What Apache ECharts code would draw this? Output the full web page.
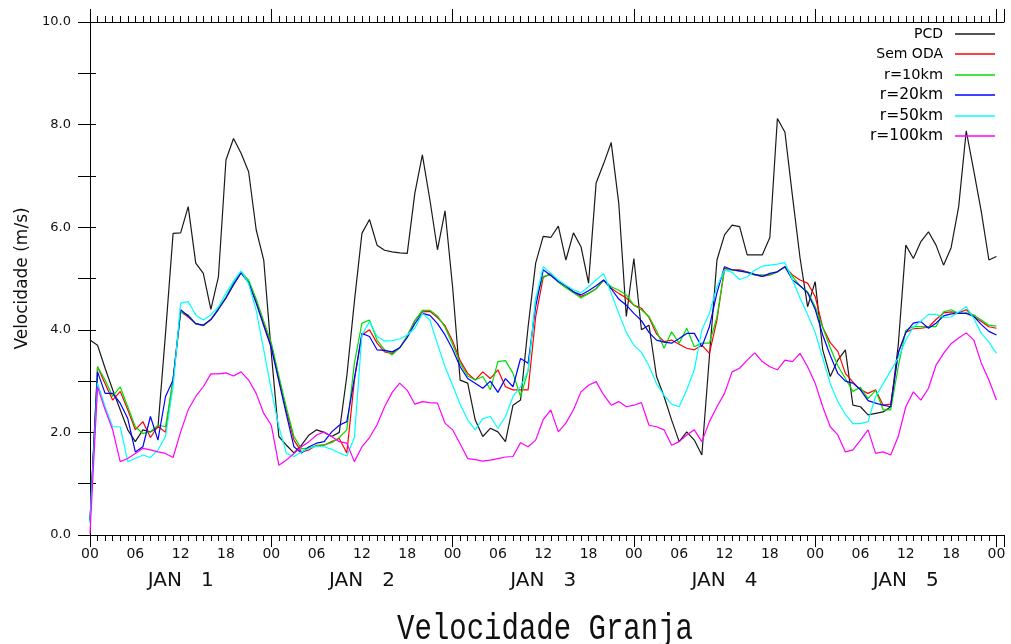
<!DOCTYPE html>
<html><head><meta charset="utf-8">
<script src="https://cdn.jsdelivr.net/npm/echarts@6/dist/echarts.min.js"></script>
<style>html,body{margin:0;padding:0;background:#fff}#c{width:1011px;height:644px}</style>
</head><body><div id="c"></div>
<script>
// hourly values, hour 0 = 00Z JAN 1 ... hour 120 = 00Z JAN 6
const pcd = [
3.80,3.70,3.25,2.83,2.44,2.05,1.82,2.05,2.01,2.10,3.93,5.88,
5.89,6.40,5.30,5.10,4.40,5.03,7.31,7.73,7.44,7.08,5.95,5.36,
3.55,1.92,1.75,1.60,1.75,1.95,2.05,2.00,1.92,2.00,3.10,4.55,
5.88,6.15,5.65,5.55,5.52,5.50,5.49,6.66,7.41,6.53,5.56,6.32,
4.84,3.02,2.96,2.24,1.92,2.08,2.01,1.82,2.53,2.63,4.06,5.30,
5.82,5.80,6.02,5.36,5.89,5.62,4.91,6.86,7.24,7.65,6.47,4.26,
5.39,4.00,4.09,3.09,2.70,2.24,1.82,2.01,1.85,1.56,3.48,5.36,
5.85,6.04,6.01,5.46,5.46,5.46,5.80,8.12,7.85,6.60,5.40,4.45,
4.94,3.61,3.09,3.41,3.61,2.53,2.50,2.34,2.37,2.40,2.50,3.70,
5.65,5.39,5.72,5.91,5.65,5.26,5.60,6.40,7.88,7.10,6.30,5.36,
5.43];
const semOda = [
0.25,3.28,2.95,2.63,2.80,2.44,2.05,2.21,1.90,2.12,2.00,3.05,
4.35,4.25,4.12,4.08,4.20,4.40,4.62,4.88,5.12,4.92,4.55,4.12,
3.70,3.05,2.42,1.85,1.62,1.66,1.75,1.75,1.82,1.88,1.60,3.02,
3.90,4.00,3.74,3.57,3.54,3.65,3.88,4.18,4.35,4.36,4.24,4.08,
3.78,3.40,3.15,3.02,3.18,3.05,3.22,2.89,2.83,2.83,2.83,4.25,
5.02,5.10,4.93,4.83,4.74,4.65,4.71,4.80,4.97,4.81,4.71,4.62,
4.48,4.42,4.24,3.92,3.77,3.80,3.72,3.64,3.61,3.70,3.54,4.19,
5.20,5.17,5.17,5.13,5.07,5.04,5.07,5.13,5.23,5.07,4.97,4.91,
4.65,4.05,3.75,3.58,3.15,2.98,2.83,2.76,2.83,2.53,2.55,3.55,
3.95,4.02,4.03,4.05,4.20,4.33,4.35,4.33,4.39,4.26,4.16,4.06,
4.03];
const r10 = [
0.25,3.28,3.02,2.70,2.89,2.50,2.11,1.98,2.01,2.14,2.11,3.02,
4.35,4.29,4.11,4.09,4.20,4.42,4.64,4.92,5.13,4.97,4.60,4.17,
3.75,3.10,2.48,1.92,1.68,1.70,1.74,1.76,1.80,1.90,2.05,3.35,
4.13,4.19,3.80,3.61,3.51,3.65,3.88,4.18,4.38,4.38,4.27,4.05,
3.72,3.35,3.10,3.02,3.09,2.83,3.38,3.40,3.15,2.70,3.20,4.60,
5.04,5.07,4.93,4.82,4.72,4.62,4.71,4.80,4.97,4.84,4.77,4.68,
4.48,4.39,4.26,3.98,3.64,3.96,3.74,4.03,3.67,3.74,3.74,4.25,
5.17,5.17,5.14,5.13,5.07,5.07,5.07,5.13,5.23,5.04,4.85,4.74,
4.45,4.05,3.65,3.30,3.05,2.80,2.88,2.66,2.82,2.44,2.44,3.28,
3.99,4.06,4.06,4.06,4.06,4.35,4.39,4.32,4.33,4.29,4.19,4.09,
4.07];
const r20 = [
0.30,3.18,2.76,2.76,2.57,2.27,1.62,1.72,2.31,1.85,2.70,3.02,
4.39,4.27,4.12,4.09,4.20,4.40,4.62,4.88,5.11,4.92,4.52,4.08,
3.65,3.00,2.35,1.72,1.60,1.72,1.79,1.82,2.01,2.14,2.21,3.05,
3.93,3.87,3.61,3.60,3.57,3.65,3.85,4.12,4.32,4.28,4.12,3.90,
3.62,3.28,3.05,2.96,2.86,3.00,2.78,3.05,2.89,3.44,3.35,4.45,
5.17,5.06,4.94,4.86,4.74,4.68,4.76,4.86,4.97,4.80,4.60,4.48,
4.32,4.18,3.95,3.80,3.76,3.74,3.83,3.93,3.93,3.67,4.06,4.72,
5.23,5.17,5.15,5.12,5.08,5.04,5.10,5.13,5.23,4.97,4.86,4.72,
4.40,3.90,3.50,3.15,3.00,2.96,2.83,2.62,2.57,2.53,2.50,3.55,
3.95,4.13,4.16,4.03,4.13,4.27,4.31,4.32,4.32,4.26,4.10,3.97,
3.90];
const r50 = [
0.25,2.96,2.50,2.11,2.11,1.43,1.49,1.56,1.51,1.66,1.92,2.89,
4.52,4.55,4.29,4.19,4.29,4.45,4.71,4.95,5.15,4.90,4.38,3.61,
2.83,2.11,1.59,1.53,1.62,1.69,1.73,1.72,1.67,1.60,1.54,1.90,
3.90,4.16,3.87,3.78,3.79,3.82,3.90,4.03,4.32,4.19,3.72,3.28,
2.92,2.55,2.24,2.05,2.27,2.31,2.08,2.31,2.70,2.89,3.20,4.60,
5.23,5.10,4.97,4.87,4.78,4.72,4.84,4.97,5.10,4.71,4.32,3.95,
3.70,3.56,3.30,2.95,2.72,2.55,2.50,2.83,3.22,4.00,4.32,4.84,
5.17,5.12,4.98,5.03,5.16,5.24,5.26,5.28,5.31,4.97,4.62,4.30,
3.95,3.45,2.95,2.60,2.35,2.17,2.17,2.21,2.70,2.95,3.20,3.45,
3.80,4.05,4.17,4.30,4.30,4.24,4.25,4.35,4.45,4.22,3.93,3.76,
3.54];
const r100 = [
0.03,2.89,2.44,2.05,1.43,1.49,1.59,1.69,1.66,1.62,1.59,1.51,
2.01,2.44,2.70,2.89,3.14,3.14,3.16,3.10,3.18,3.02,2.76,2.37,
2.14,1.36,1.46,1.59,1.72,1.82,1.95,2.01,1.92,1.82,1.79,1.43,
1.72,1.90,2.15,2.50,2.78,2.96,2.82,2.55,2.60,2.58,2.57,2.18,
2.05,1.78,1.49,1.47,1.44,1.46,1.49,1.52,1.53,1.80,1.72,1.85,
2.25,2.44,2.01,2.18,2.44,2.79,2.92,2.99,2.73,2.53,2.60,2.50,
2.53,2.58,2.14,2.11,2.05,1.75,1.82,1.95,2.05,1.82,2.21,2.50,
2.76,3.18,3.25,3.41,3.55,3.38,3.28,3.22,3.41,3.38,3.54,3.28,
2.96,2.50,2.11,1.95,1.62,1.66,1.85,2.05,1.59,1.62,1.56,1.92,
2.50,2.79,2.63,2.86,3.31,3.54,3.73,3.84,3.94,3.80,3.35,3.02,
2.63];

const seriesNames = ['PCD','Sem ODA','r=10km','r=20km','r=50km','r=100km'];
const seriesColors = ['#1a1a1a','#ff0000','#00dd00','#0000ff','#00ffff','#ff00ff'];
const seriesValues = [pcd, semOda, r10, r20, r50, r100];
const hourLabels = ['00','06','12','18'];
const dayLabels = ['JAN   1','JAN   2','JAN   3','JAN   4','JAN   5'];
const titleText = 'Velocidade Granja';
const yName = 'Velocidade (m/s)';

const F = 'DejaVu Sans';
const blk = {color:'#000', width:1};
function xBase(pos, interval) {
  return {type:'value', min:0, max:121, interval:interval, position:pos,
    axisLine:{show:false, lineStyle:blk}, axisTick:{show:false, lineStyle:blk},
    axisLabel:{show:false}, splitLine:{show:false}, minorTick:{show:false}};
}
const xa0 = xBase('bottom', 6);
xa0.axisLine.show = true;
xa0.axisLabel = {show:true, margin:12, fontFamily:F, fontSize:14, color:'#111',
  formatter: v => (Math.round(v) % 6 === 0 && v <= 120) ? hourLabels[(Math.round(v) % 24) / 6] : ''};
const xa1 = xBase('bottom', 1); xa1.axisTick = {show:true, length:6, inside:false, lineStyle:blk};
const xa2 = xBase('bottom', 24); xa2.axisTick = {show:true, length:12, inside:false, lineStyle:blk};
const xa3 = xBase('bottom', 12);
xa3.axisLabel = {show:true, margin:36, fontFamily:F, fontSize:20, color:'#111',
  formatter: v => (Math.round(v) % 24 === 12) ? dayLabels[(Math.round(v) - 12) / 24] : ''};
const xa4 = xBase('top', 1); xa4.axisLine.show = true; xa4.axisTick = {show:true, length:6, lineStyle:blk};
const xa5 = xBase('top', 24); xa5.axisTick = {show:true, length:13, lineStyle:blk};

const legendFont = [14, 14, 14.5, 15.5, 15.5, 15.5];
const legendY = [34, 54, 75, 95, 116, 136];
const legends = seriesNames.map((n, i) => ({
  data:[{name:n, textStyle:{fontSize:legendFont[i]}}],
  right:16, top:legendY[i] - 9, align:'right', orient:'vertical',
  icon:'rect', itemWidth:40, itemHeight:1.5, padding:0, itemGap:0,
  textStyle:{fontFamily:F, color:'#000', lineHeight:18, padding:[0,7,0,0]}
}));

const option = {
  animation:false,
  backgroundColor:'#fff',
  grid:{left:90, top:22, right:7, bottom:109, outerBoundsMode:'none', containLabel:false},
  legend: legends,
  xAxis:[xa0, xa1, xa2, xa3, xa4, xa5],
  yAxis:[
    {type:'value', min:0, max:10, interval:1, position:'left',
     axisLine:{show:true, lineStyle:blk}, axisTick:{show:true, length:12, lineStyle:blk},
     axisLabel:{show:true, margin:19, fontFamily:F, fontSize:13, color:'#111',
       formatter: v => (Math.round(v) % 2 === 0) ? v.toFixed(1) : ''},
     splitLine:{show:false},
     name:yName, nameLocation:'middle', nameRotate:90, nameGap:58,
     nameTextStyle:{fontFamily:F, fontSize:17, color:'#111'}},
    {type:'value', min:0, max:10, interval:1, position:'right',
     axisLine:{show:true, lineStyle:blk}, axisTick:{show:true, length:6, lineStyle:blk},
     axisLabel:{show:false}, splitLine:{show:false}}
  ],
  series: seriesNames.map((n, i) => ({
    name:n, type:'line', xAxisIndex:0, yAxisIndex:0,
    data: seriesValues[i].map((v, h) => [h, v]),
    symbol:'none', smooth:false,
    lineStyle:{color:seriesColors[i], width:1.2},
    itemStyle:{color:seriesColors[i]},
    emphasis:{disabled:true}
  })),
  graphic:[{
    type:'text', x:545, y:629, scaleY:1.25,
    style:{text:titleText, font:'29px "Liberation Mono"', fill:'#111',
      textAlign:'center', textVerticalAlign:'middle'}
  }]
};
const chart = echarts.init(document.getElementById('c'));
chart.setOption(option);
</script>
</body></html>
